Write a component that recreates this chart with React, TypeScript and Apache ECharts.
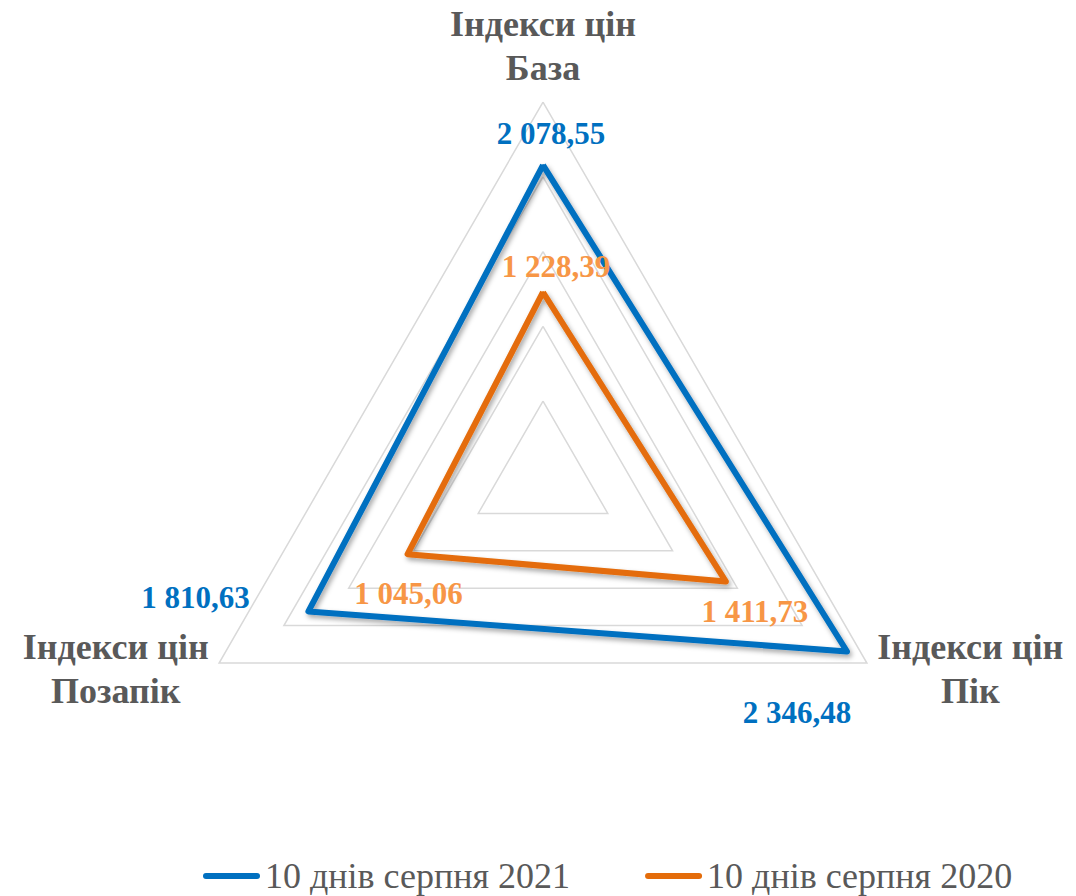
import React, { useEffect, useRef } from "react";
import * as echarts from "echarts";

// ---- data (Excel order: База, Пік, Позапік) ----
const axisPrefix = "Індекси цін";
const categories = ["База", "Пік", "Позапік"];
const seriesNames = ["10 днів серпня 2021", "10 днів серпня 2020"];
const values2021 = [2078.55, 2346.48, 1810.63];
const values2020 = [1228.39, 1411.73, 1045.06];
const axisMin = 0;
const axisMax = 2500;
const axisSplits = 5;

// ECharts places indicators counter-clockwise from the top; Excel goes clockwise
const displayOrder = [0, 2, 1];

// ---- label placement (px shift of each value label from its vertex, Excel order) ----
const shift2021: number[][] = [[8, -32], [-50, 61], [-113, -14]];
const shift2020: number[][] = [[13, -26], [29, 30], [1, 39]];

const FONT = "'Liberation Serif', 'Times New Roman', serif";
const BLUE = "#0070C0";
const ORANGE = "#E46C0A";
const ORANGE_LABEL = "#F79646";
const GREY = "#595959";

const fmt = (v: number) => {
  const [i, d] = v.toFixed(2).split(".");
  return i.replace(/\B(?=(\d{3})+(?!\d))/g, " ") + "," + d;
};

const buildRich = (shifts: number[][], color: string) => {
  const rich: Record<string, any> = {};
  shifts.forEach(([dx, dy], i) => {
    rich["v" + i] = {
      color,
      fontFamily: FONT,
      fontWeight: "bold",
      fontSize: 31,
      lineHeight: 36,
      align: "center",
      padding: [Math.max(0, 2 * dy), Math.max(0, -2 * dx), Math.max(0, -2 * dy), Math.max(0, 2 * dx)],
    };
  });
  return rich;
};

const makeFormatter = (vals: number[]) => (p: any) => {
  const v = Array.isArray(p.value) ? p.value[0] : p.value;
  const idx = vals.findIndex((x) => Math.abs(x - v) < 1e-9);
  return `{v${idx}|${fmt(v)}}`;
};

const lineShadow = {
  shadowColor: "rgba(0,0,0,0.35)",
  shadowBlur: 5,
  shadowOffsetX: 2,
  shadowOffsetY: 3,
};

export default function App() {
  const ref = useRef<HTMLDivElement>(null);

  useEffect(() => {
    if (!ref.current) return;
    const chart = echarts.init(ref.current, null, { renderer: "svg" });
    const option: any = {
      animation: false,
      backgroundColor: "#ffffff",
      legend: {
        data: seriesNames,
        left: 198,
        top: 853,
        padding: 5,
        itemWidth: 57,
        itemHeight: 6,
        itemGap: 75,
        icon: "path://M3,0 H54 A3,3 0 0 1 54,6 H3 A3,3 0 0 1 3,0 Z",
        textStyle: { fontFamily: FONT, fontSize: 36, color: GREY, lineHeight: 36 },
      },
      radar: {
        center: [543, 476],
        radius: 374,
        startAngle: 90,
        shape: "polygon",
        splitNumber: axisSplits,
        nameGap: 12,
        indicator: displayOrder.map((i) => ({ name: categories[i], min: axisMin, max: axisMax })),
        axisName: {
          formatter: (name: string) => `{n|${axisPrefix}}\n{n|${name}}`,
          color: GREY,
          fontFamily: FONT,
          fontWeight: "bold",
          fontSize: 36,
          rich: {
            n: {
              align: "center",
              color: GREY,
              fontFamily: FONT,
              fontWeight: "bold",
              fontSize: 36,
              lineHeight: 44,
            },
          },
        },
        splitLine: { lineStyle: { color: "#D9D9D9", width: 1.5 } },
        splitArea: { show: false },
        axisLine: { show: false },
        axisTick: { show: false },
        axisLabel: { show: false },
      },
      series: [
        {
          type: "radar",
          name: seriesNames[0],
          symbol: "circle",
          symbolSize: 2,
          itemStyle: { color: BLUE },
          lineStyle: { color: BLUE, width: 6, join: "round", ...lineShadow },
          label: {
            show: true,
            position: "inside",
            formatter: makeFormatter(values2021),
            rich: buildRich(shift2021, BLUE),
          },
          data: [{ name: seriesNames[0], value: displayOrder.map((i) => values2021[i]) }],
        },
        {
          type: "radar",
          name: seriesNames[1],
          symbol: "circle",
          symbolSize: 2,
          itemStyle: { color: ORANGE },
          lineStyle: { color: ORANGE, width: 6, join: "round", ...lineShadow },
          label: {
            show: true,
            position: "inside",
            formatter: makeFormatter(values2020),
            rich: buildRich(shift2020, ORANGE_LABEL),
          },
          data: [{ name: seriesNames[1], value: displayOrder.map((i) => values2020[i]) }],
        },
      ],
    };
    chart.setOption(option);
    return () => chart.dispose();
  }, []);

  return (
    <div
      ref={ref}
      style={{ position: "fixed", left: 0, top: 0, width: 1076, height: 896, background: "#fff" }}
    />
  );
}
